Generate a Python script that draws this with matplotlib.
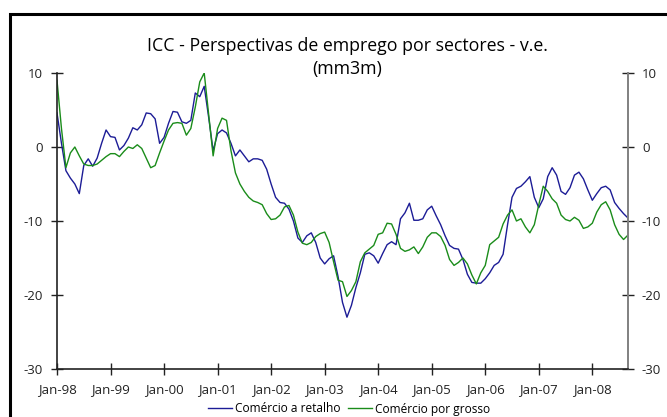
import matplotlib
matplotlib.use("Agg")
import matplotlib.pyplot as plt
import matplotlib.patches as mpatches
import numpy as np
import pandas as pd

plt.rcParams['font.family'] = ['Open Sans', 'DejaVu Sans']

# Monthly data Jan-1998 .. Sep-2008
dates = pd.date_range("1998-01-01", periods=129, freq="MS")

retalho = [
    4.6, 0.5, -3.2, -4.2, -5.0, -6.3, -2.5, -1.6, -2.6, -1.5,
    0.5, 2.3, 1.4, 1.3, -0.4, 0.2, 1.2, 2.6, 2.3, 3.0,
    4.6, 4.5, 3.8, 0.5, 1.3, 3.2, 4.8, 4.7, 3.4, 3.2,
    3.6, 7.3, 6.8, 8.2, 4.0, -0.5, 1.8, 2.3, 1.9, 0.5,
    -1.2, -0.4, -1.2, -2.0, -1.6, -1.6, -1.8, -3.0, -5.0, -6.8,
    -7.5, -7.6, -8.4, -10.0, -12.3, -12.9, -12.0, -11.6, -12.9, -15.0,
    -15.8, -15.1, -14.7, -17.5, -21.0, -23.0, -21.4, -19.0, -17.0, -14.5,
    -14.3, -14.7, -15.7, -14.4, -13.2, -12.8, -13.2, -9.7, -8.9, -7.6,
    -9.9, -9.9, -9.7, -8.5, -8.0, -9.3, -10.5, -12.0, -13.3, -13.7,
    -13.8, -15.2, -17.2, -18.3, -18.4, -18.4, -17.8, -17.0, -16.0, -15.6,
    -14.5, -10.5, -6.8, -5.6, -5.3, -4.7, -4.0, -6.8, -8.2, -7.0,
    -4.0, -2.8, -3.8, -6.0, -6.4, -5.5, -3.8, -3.4, -4.3, -5.8,
    -7.2, -6.3, -5.5, -5.3, -5.8, -7.5, -8.3, -9.0, -9.6,
]

grosso = [
    9.0, 2.5, -2.8, -0.8, 0.0, -1.2, -2.3, -2.5, -2.5, -2.3,
    -1.8, -1.3, -0.9, -0.9, -1.3, -0.6, 0.0, -0.2, 0.3, -0.2,
    -1.5, -2.8, -2.5, -0.8, 0.8, 2.3, 3.2, 3.3, 3.2, 1.6,
    2.5, 5.4, 8.8, 10.0, 4.4, -1.2, 2.5, 3.9, 3.6, -0.5,
    -3.5, -5.0, -6.0, -6.8, -7.3, -7.5, -7.8, -9.0, -9.8, -9.7,
    -9.2, -8.1, -7.9, -9.2, -11.5, -13.0, -13.2, -12.9, -12.1, -11.7,
    -11.5, -12.9, -15.5, -18.0, -18.2, -20.2, -19.4, -18.2, -15.5, -14.3,
    -13.8, -13.3, -11.8, -11.6, -10.3, -10.4, -11.8, -13.7, -14.1, -13.9,
    -13.5, -14.4, -13.5, -12.2, -11.6, -11.6, -12.1, -13.3, -15.2, -16.0,
    -15.6, -15.0, -15.8, -17.3, -18.5, -17.0, -16.0, -13.2, -12.7, -12.2,
    -10.4, -9.2, -8.5, -10.0, -9.7, -10.8, -11.6, -10.5, -7.8, -5.3,
    -6.0, -7.0, -7.6, -9.2, -9.8, -10.0, -9.5, -9.9, -11.0, -10.8,
    -10.3, -8.8, -7.8, -7.4, -8.5, -10.5, -11.8, -12.5, -11.9,
]

series_names = ["Comércio a retalho", "Comércio por grosso"]
title_text = "ICC - Perspectivas de emprego por sectores - v.e.\n(mm3m)"
yticks = [10, 0, -10, -20, -30]
xtick_labels = ["Jan-98", "Jan-99", "Jan-00", "Jan-01", "Jan-02", "Jan-03",
                "Jan-04", "Jan-05", "Jan-06", "Jan-07", "Jan-08"]

W, H = 667, 417
fig = plt.figure(figsize=(W / 100, H / 100), dpi=100)

# outer frame (clipped at right and bottom)
frame = mpatches.Rectangle((10 / W, -0.1), 1.2, 1 - 14 / H + 0.1,
                           transform=fig.transFigure, fill=False,
                           edgecolor='black', linewidth=2.2, zorder=0)
fig.patches.append(frame)

ax = fig.add_axes([57 / W, 1 - 369 / H, (628 - 57) / W, (369 - 73) / H])
x = np.arange(len(dates))
ax.plot(x, retalho, color='#1c1c96', linewidth=1.0, label=series_names[0])
ax.plot(x, grosso, color='#1a8c1a', linewidth=1.0, label=series_names[1])

ax.set_xlim(0, len(dates) - 1)
ax.set_ylim(-30, 10)
ax.set_yticks(yticks)
ax.set_yticklabels([str(v) for v in yticks])
xt = [i for i, d in enumerate(dates) if d.month == 1]
ax.set_xticks(xt)
ax.set_xticklabels(xtick_labels)

ax.spines['top'].set_visible(False)
ax.spines['left'].set_color('#222222')
ax.spines['bottom'].set_color('#222222')
ax.spines['right'].set_color('#808080')
ax.spines['right'].set_linewidth(1.4)
for s in ['left', 'bottom']:
    ax.spines[s].set_linewidth(1.2)

ax.tick_params(axis='both', direction='inout', length=8, width=1.0,
               labelsize=9.5, colors='#222222')
ax.tick_params(axis='y', pad=6, right=True, labelright=True)
ax.tick_params(axis='x', pad=6)

fig.text(347 / W, 1 - 57.5 / H, title_text, ha='center', va='center',
         fontsize=12.8, linespacing=1.35)

leg = fig.legend(loc='center', bbox_to_anchor=(349 / W, 1 - 409 / H),
                 ncol=2, frameon=False, fontsize=8.6, handlelength=2.0,
                 handletextpad=0.2, columnspacing=0.7, borderpad=0)

fig.savefig("out.png", dpi=100)
